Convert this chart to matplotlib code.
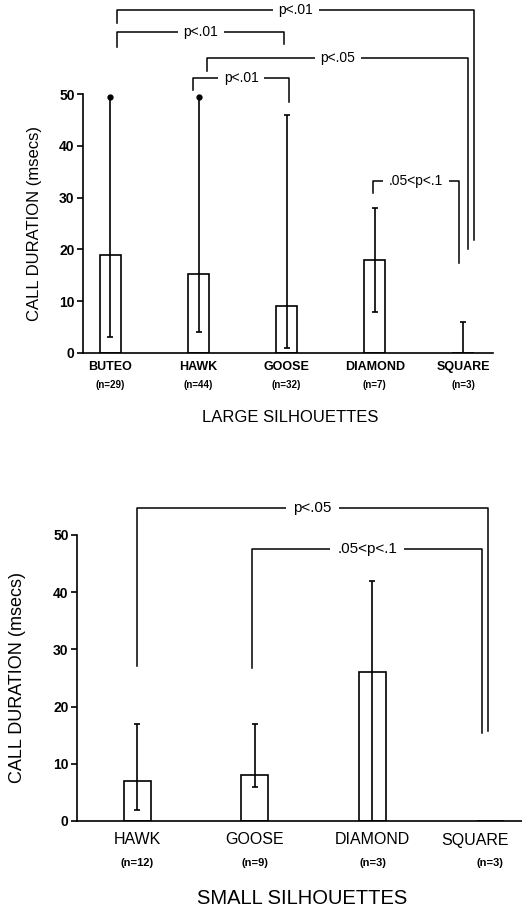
import matplotlib.pyplot as plt
import numpy as np

plt.rcParams["font.family"] = ["Liberation Sans", "DejaVu Sans"]

# ==========================================================
# Data
# ==========================================================

large_names = ["BUTEO", "HAWK", "GOOSE", "DIAMOND", "SQUARE"]
large_n = ["(n=29)", "(n=44)", "(n=32)", "(n=7)", "(n=3)"]
large_mean = [19, 15.2, 9, 18, 0]
large_low = [3, 4, 1, 8, 0]
large_high = [49.5, 49.5, 46, 28, 6]
large_top_dot = [True, True, False, False, False]

# brackets: left x, right x, top y, left leg end, right leg end, label
large_brackets = [
    (0.08, 4.13, 66.2, 63.7, 21.8, "p<.01"),
    (0.08, 1.97, 62.0, 59.1, 59.7, "p<.01"),
    (1.10, 4.06, 56.9, 54.4, 20.1, "p<.05"),
    (0.94, 2.03, 53.1, 50.8, 48.5, "p<.01"),
    (2.98, 3.95, 33.2, 30.9, 17.4, ".05<p<.1"),
]

small_names = ["HAWK", "GOOSE", "DIAMOND", "SQUARE"]
small_n = ["(n=12)", "(n=9)", "(n=3)", "(n=3)"]
small_mean = [7, 8, 26, 0]
small_low = [2, 6, 0, None]
small_high = [17, 17, 42, None]

small_brackets = [
    (0.0, 2.98, 54.7, 27.1, 15.7, "p<.05"),
    (0.98, 2.93, 47.6, 26.7, 15.4, ".05<p<.1"),
]

yticks = [0, 10, 20, 30, 40, 50]


def px(v):
    # pixels -> points at 100 dpi
    return v * 0.72


def draw_panel(ax, names, n_labels, means, lows, highs, top_dot,
               brackets, width, ylim, xlim, name_style, n_style,
               name_off, n_off, label_fs, label_pad, name_shift=None):
    x = np.arange(len(names))
    if name_shift is None:
        name_shift = [0] * len(names)

    ax.bar(x, means, width=width, color="white", edgecolor="black",
           linewidth=1.2, zorder=2)

    for i in range(len(names)):
        if lows[i] is None:
            continue
        ax.vlines(x[i], lows[i], highs[i], color="black", lw=1.2, zorder=3)
        if lows[i] > 0:
            ax.plot(x[i], lows[i], marker="_", ms=5, mew=1.2,
                    color="black", zorder=3)
        if top_dot[i]:
            ax.plot(x[i], highs[i], marker="o", ms=3.5, color="black",
                    zorder=3, clip_on=False)
        else:
            ax.plot(x[i], highs[i], marker="_", ms=5, mew=1.2,
                    color="black", zorder=3)

    for xl, xr, yt, yl, yr, text in brackets:
        ax.plot([xl, xl, xr, xr], [yl, yt, yt, yr], color="black",
                lw=1.1, clip_on=False, zorder=1)
        ax.text((xl + xr) / 2, yt, text, ha="center", va="center",
                fontsize=label_fs, zorder=4,
                bbox=dict(facecolor="white", edgecolor="none",
                          pad=label_pad))

    ax.set_xlim(*xlim)
    ax.set_ylim(*ylim)
    ax.set_yticks(yticks)
    ax.set_yticklabels([str(t) for t in yticks], fontsize=10,
                       fontweight="bold")
    ax.set_xticks([])
    ax.tick_params(axis="y", direction="out", length=4, width=1.2, pad=2)

    for side in ["top", "right"]:
        ax.spines[side].set_visible(False)
    ax.spines["left"].set_bounds(0, 50)
    ax.spines["left"].set_linewidth(1.2)
    ax.spines["bottom"].set_linewidth(1.2)

    for i in range(len(names)):
        ax.annotate(names[i], xy=(x[i], 0),
                    xytext=(px(name_shift[i]), -px(name_off)),
                    textcoords="offset points", ha="center", va="center",
                    annotation_clip=False, **name_style)
        ax.annotate(n_labels[i], xy=(x[i], 0), xytext=(0, -px(n_off)),
                    textcoords="offset points", ha="center", va="center",
                    annotation_clip=False, **n_style)


fig = plt.figure(figsize=(5.22, 9.09), dpi=100)

# ==========================================================
# Large silhouettes
# ==========================================================

ax1 = fig.add_axes([83 / 522, (909 - 353) / 909, 410 / 522, 347 / 909])
draw_panel(
    ax1, large_names, large_n, large_mean, large_low, large_high,
    large_top_dot, large_brackets,
    width=0.24, ylim=(0, 67), xlim=(-0.31, 4.34),
    name_style=dict(fontsize=9, fontweight="bold"),
    n_style=dict(fontsize=7, fontweight="bold"),
    name_off=14, n_off=32, label_fs=10, label_pad=4,
)
ax1.set_ylabel("CALL DURATION (msecs)", fontsize=12)
ax1.yaxis.set_label_coords((42 - 83) / 410, 25 / 67)

fig.text(290 / 522, 1 - 418 / 909, "LARGE SILHOUETTES",
         ha="center", va="center", fontsize=12)

# ==========================================================
# Small silhouettes
# ==========================================================

ax2 = fig.add_axes([77 / 522, (909 - 821) / 909, 445 / 522, 332 / 909])
draw_panel(
    ax2, small_names, small_n, small_mean, small_low, small_high,
    [False] * 4, small_brackets,
    width=0.23, ylim=(0, 58), xlim=(-0.51, 3.27),
    name_style=dict(fontsize=11.5),
    n_style=dict(fontsize=8, fontweight="bold"),
    name_off=19, n_off=42, label_fs=11, label_pad=5,
    name_shift=[0, 0, 0, -15],
)
ax2.set_ylabel("CALL DURATION (msecs)", fontsize=13)
ax2.yaxis.set_label_coords((26 - 77) / 445, 25 / 58)

fig.text(302 / 522, 1 - 898 / 909, "SMALL SILHOUETTES",
         ha="center", va="center", fontsize=14.5)

fig.savefig("out.png", dpi=100)
